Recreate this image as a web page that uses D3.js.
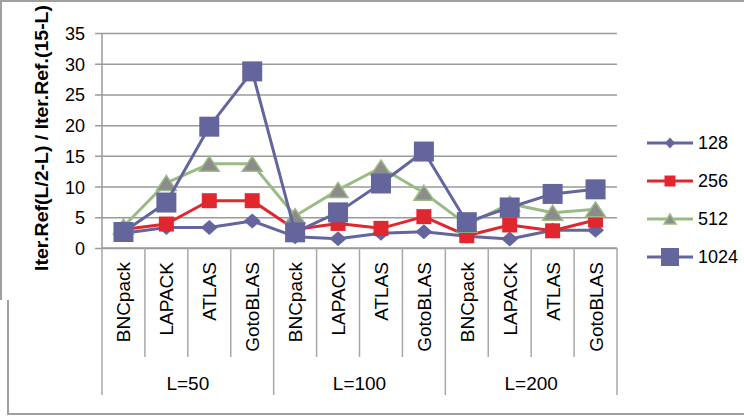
<!DOCTYPE html>
<html>
<head>
<meta charset="utf-8">
<script src="https://cdn.jsdelivr.net/npm/d3@7"></script>
<style>
  html, body { margin: 0; padding: 0; background: #fff; }
  svg { display: block; font-family: "Liberation Sans", Arial, sans-serif; }
</style>
</head>
<body>
<svg id="chart" width="744" height="416"></svg>
<script>
// Solver libraries, grouped by problem size L
const groups = ["L=50", "L=100", "L=200"];
const libraries = ["BNCpack", "LAPACK", "ATLAS", "GotoBLAS"];
const seriesNames = ["128", "256", "512", "1024"];

// Ratio Iter.Ref(L/2-L) / Iter.Ref.(15-L), 12 values per series (group-major order)
const values128  = [2.4, 3.35, 3.35, 4.4,  1.85, 1.5, 2.4, 2.65,  1.9, 1.45, 2.9, 2.9];
const values256  = [3.0, 3.9, 7.7, 7.7,  3.0, 4.0, 3.2, 5.1,  2.0, 3.75, 2.8, 4.55];
const values512  = [3.5, 10.6, 13.7, 13.7,  5.2, 9.45, 13.1, 9.0,  3.8, 7.2, 5.75, 6.3];
const values1024 = [2.6, 7.4, 19.75, 28.75,  2.55, 5.8, 10.5, 15.7,  4.2, 6.6, 8.8, 9.55];

const yTicks = [0, 5, 10, 15, 20, 25, 30, 35];

const svg = d3.select("#chart");
const W = 744, H = 416;
const plot = { left: 102, right: 617, top: 33, bottom: 248 };

const grid = "#9a9a9a";
const purple = "#63659c";
const red = "#e0262e";
const green = "#9bbb86";
const grey = "#8c8c8c";

const catKeys = [];
groups.forEach(g => libraries.forEach(l => catKeys.push(g + "|" + l)));

const x = d3.scaleBand().domain(catKeys).range([plot.left, plot.right]).paddingInner(0).paddingOuter(0);
const xg = d3.scaleBand().domain(groups).range([plot.left, plot.right]);
const y = d3.scaleLinear().domain([0, 35]).range([plot.bottom, plot.top]);

// chart frame
svg.append("line").attr("x1", 0).attr("x2", W).attr("y1", 1).attr("y2", 1)
  .attr("stroke", "#a0a0a0").attr("stroke-width", 2);
svg.append("path").attr("d", "M1,0 V300 M8,300 V415")
  .attr("stroke", "#a0a0a0").attr("stroke-width", 2).attr("fill", "none");
svg.append("line").attr("x1", 8).attr("x2", W).attr("y1", 414).attr("y2", 414)
  .attr("stroke", "#a0a0a0").attr("stroke-width", 2);

// horizontal gridlines and y ticks
const yAxis = d3.axisLeft(y).tickValues(yTicks).tickSize(plot.right - plot.left + 7).tickPadding(10).tickFormat(d3.format("d"));
const yg = svg.append("g").attr("transform", `translate(${plot.right},0)`).call(yAxis);
yg.select(".domain").remove();
yg.selectAll(".tick line").attr("stroke", grid).attr("stroke-width", 1.5);
yg.selectAll(".tick text").attr("font-size", 18).attr("fill", "#000")
  .attr("x", -(plot.right - 85)).attr("dy", "0.36em");

// y axis line
svg.append("line").attr("x1", plot.left).attr("x2", plot.left)
  .attr("y1", plot.top).attr("y2", plot.bottom)
  .attr("stroke", grid).attr("stroke-width", 1.5);

// x axis line
svg.append("line").attr("x1", plot.left).attr("x2", plot.right)
  .attr("y1", plot.bottom).attr("y2", plot.bottom)
  .attr("stroke", grid).attr("stroke-width", 1.5);

// category separators: short inside groups, long at group boundaries
const bounds = catKeys.map(k => x(k)).concat([plot.right]);
svg.append("g").selectAll("line").data(bounds).join("line")
  .attr("x1", d => d).attr("x2", d => d)
  .attr("y1", plot.bottom)
  .attr("y2", (d, i) => (i % 4 === 0) ? 395 : 357)
  .attr("stroke", "#a8a8a8").attr("stroke-width", 1.5);

// library labels, rotated
svg.append("g").selectAll("text").data(catKeys).join("text")
  .attr("transform", d => `translate(${x(d) + x.bandwidth() / 2 + 7},262) rotate(-90)`)
  .attr("text-anchor", "end")
  .attr("font-size", 19)
  .attr("fill", "#000")
  .text(d => d.split("|")[1]);

// group labels
svg.append("g").selectAll("text").data(groups).join("text")
  .attr("x", d => xg(d) + xg.bandwidth() / 2)
  .attr("y", 390)
  .attr("text-anchor", "middle")
  .attr("font-size", 19)
  .attr("fill", "#000")
  .text(d => d);

// y axis title
svg.append("text")
  .attr("transform", "translate(48,138) rotate(-90)")
  .attr("text-anchor", "middle")
  .attr("font-size", 18)
  .attr("font-weight", "bold")
  .attr("textLength", 266)
  .attr("lengthAdjust", "spacingAndGlyphs")
  .attr("fill", "#000")
  .text("Iter.Ref(L/2-L) / Iter.Ref.(15-L)");

// marker shapes (w, h = full size)
const shapes = {
  diamond: (w, h) => `M0,${-h/2} L${w/2},0 L0,${h/2} L${-w/2},0 Z`,
  square: (w, h) => `M${-w/2},${-h/2} h${w} v${h} h${-w} Z`,
  triangle: (w, h) => `M0,${-h/2} L${w/2},${h/2} L${-w/2},${h/2} Z`
};

const series = [
  { name: seriesNames[0], values: values128,  line: purple, fill: purple, stroke: purple, shape: "diamond",  w: 17, h: 15, lw: 10, lh: 11 },
  { name: seriesNames[1], values: values256,  line: red,    fill: red,    stroke: red,    shape: "square",   w: 15, h: 15, lw: 11, lh: 11 },
  { name: seriesNames[2], values: values512,  line: green,  fill: grey,   stroke: green,  shape: "triangle", w: 20, h: 15, lw: 12, lh: 10 },
  { name: seriesNames[3], values: values1024, line: purple, fill: purple, stroke: purple, shape: "square",   w: 20, h: 20, lw: 18, lh: 18 }
];

const lineGen = d3.line()
  .x((d, i) => x(catKeys[i]) + x.bandwidth() / 2)
  .y(d => y(d));

series.forEach(s => {
  const g = svg.append("g");
  g.append("path").datum(s.values)
    .attr("d", lineGen)
    .attr("fill", "none")
    .attr("stroke", s.line)
    .attr("stroke-width", 3)
    .attr("stroke-linejoin", "round");
  g.selectAll("path.m").data(s.values).join("path")
    .attr("class", "m")
    .attr("d", shapes[s.shape](s.w, s.h))
    .attr("transform", (d, i) => `translate(${x(catKeys[i]) + x.bandwidth() / 2},${y(d)})`)
    .attr("fill", s.fill)
    .attr("stroke", s.stroke)
    .attr("stroke-width", s.shape === "triangle" ? 1.5 : 0);
});

// legend
const legendY = d3.scalePoint().domain(seriesNames).range([143, 257]);
const lg = svg.append("g");
series.forEach(s => {
  const cy = legendY(s.name);
  lg.append("line").attr("x1", 647).attr("x2", 693).attr("y1", cy).attr("y2", cy)
    .attr("stroke", s.line).attr("stroke-width", 3);
  lg.append("path").attr("d", shapes[s.shape](s.lw, s.lh))
    .attr("transform", `translate(670,${cy})`)
    .attr("fill", s.fill).attr("stroke", s.stroke)
    .attr("stroke-width", s.shape === "triangle" ? 1.5 : 0);
  lg.append("text").attr("x", 698).attr("y", cy).attr("dy", "0.36em")
    .attr("font-size", 18).attr("fill", "#000").text(s.name);
});
</script>
</body>
</html>
